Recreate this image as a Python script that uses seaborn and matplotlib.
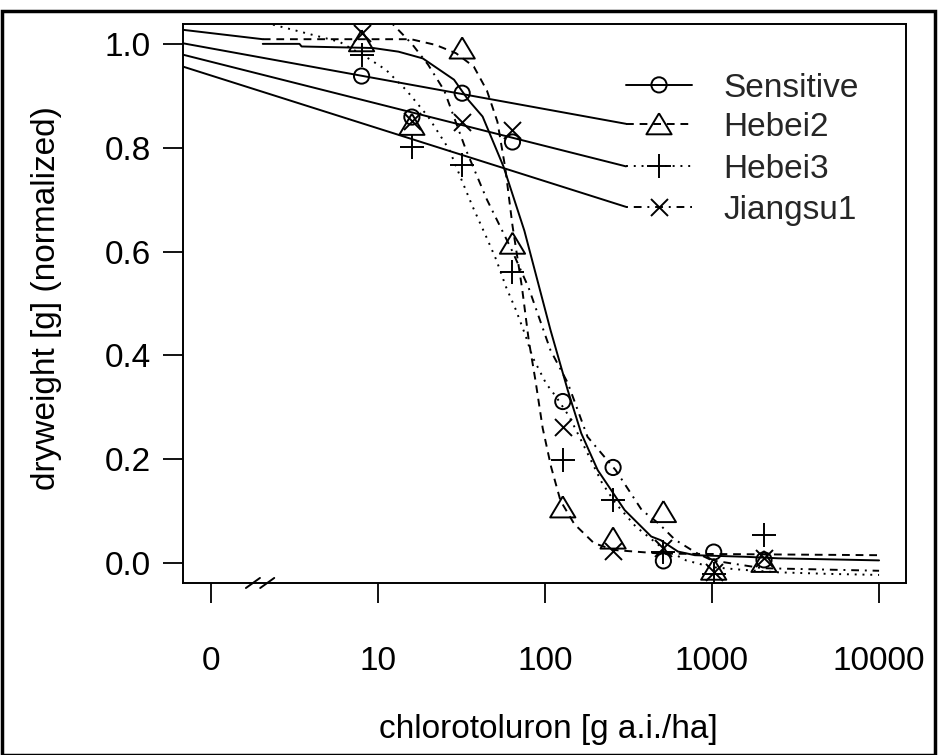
import numpy as np
import pandas as pd
import matplotlib
matplotlib.use("Agg")
import matplotlib.pyplot as plt
import seaborn as sns
from matplotlib.patches import Rectangle

# observed (normalized) dry weights per dose
doses = [8, 16, 32, 64, 128, 256, 512, 1024, 2048]
sensitive = [0.938, 0.859, 0.905, 0.811, 0.311, 0.184, 0.004, 0.021, 0.006]
hebei2 = [1.006, 0.845, 0.992, 0.616, 0.108, 0.048, 0.099, -0.012, 0.003]
hebei3 = [0.979, 0.802, 0.767, 0.560, 0.198, 0.121, 0.022, -0.022, 0.054]
jiangsu1 = [1.021, 0.852, 0.850, 0.834, 0.261, 0.024, 0.029, -0.017, 0.010]

# fitted curves
solid_dose = [2.05, 3.4, 3.5, 9.4, 13.3, 18.6, 28.6, 34.8, 42.4, 56.5, 75.4, 108, 137,
              165, 207, 300, 433, 493, 626, 790, 1570, 2500, 10000]
solid_y = [1.0, 1.0, 0.995, 0.992, 0.985, 0.972, 0.931, 0.892, 0.86, 0.764, 0.64, 0.449,
           0.333, 0.25, 0.179, 0.102, 0.051, 0.044, 0.022, 0.015, 0.012, 0.009, 0.005]
dashed_dose = [2.05, 15.8, 22.2, 29.4, 37.6, 45, 52, 58, 64, 73, 80, 88, 97, 109, 124,
               150, 197, 260, 500, 10000]
dashed_y = [1.009, 1.009, 0.998, 0.982, 0.956, 0.91, 0.85, 0.76, 0.65, 0.53, 0.43, 0.35,
            0.26, 0.185, 0.12, 0.075, 0.038, 0.025, 0.018, 0.015]
dotted_dose = [2.36, 5.9, 8.5, 11.2, 14.8, 20, 26.8, 32.3, 36.9, 44.5, 51.2, 58.5, 67.2,
               77, 84.3, 101.6, 116.8, 140, 168, 220, 265, 350, 500, 700, 1000, 1500,
               2500, 5000, 10000]
dotted_y = [1.037, 1.004, 0.975, 0.95, 0.911, 0.86, 0.796, 0.732, 0.687, 0.629, 0.584,
            0.532, 0.487, 0.436, 0.397, 0.346, 0.32, 0.282, 0.231, 0.154, 0.115, 0.07,
            0.03, 0.005, -0.008, -0.013, -0.018, -0.021, -0.023]
dashdot_dose = [12.3, 16, 20, 25, 33.7, 45, 64, 80, 108, 137, 180, 265, 380, 480, 600,
                800, 1000, 2000, 10000]
dashdot_y = [1.038, 1.0, 0.96, 0.91, 0.796, 0.70, 0.60, 0.53, 0.41, 0.347, 0.243, 0.179,
             0.102, 0.076, 0.045, 0.02, 0.005, -0.01, -0.015]

# straight connector lines (start at left edge of the plot)
conn_start_y = [1.027, 1.001, 0.979, 0.956]
conn_end_dose = [2.05, 306, 306, 306]
conn_end_y = [1.009, 0.846, 0.764, 0.686]

# legend
legend_labels = ["Sensitive", "Hebei2", "Hebei3", "Jiangsu1"]
legend_y = [0.921, 0.846, 0.764, 0.686]

x_ticks = [1, 10, 100, 1000, 10000]
x_ticklabels = ["0", "10", "100", "1000", "10000"]
y_ticks = [0.0, 0.2, 0.4, 0.6, 0.8, 1.0]
break_doses = [1.79, 2.18]

sns.set_theme(style="white")
plt.rcParams['font.family'] = ['Liberation Sans', 'DejaVu Sans']
plt.rcParams['lines.scale_dashes'] = True

fig = plt.figure(figsize=(9.43, 7.55), dpi=100)
ax = fig.add_axes([0.1944, 0.2282, 0.7664, 0.7405])
ax.set_xscale('log')
xmin, xmax = 0.686, 14500
ax.set_xlim(xmin, xmax)
ax.set_ylim(-0.038, 1.039)

lw = 1.4
tri = [(0, 1), (-1.2, -1), (1.2, -1), (0, 1)]
styles = {
    "Sensitive": dict(ls='-', marker='o', filled=True, s=120),
    "Hebei2": dict(ls=(0, (4, 3)), marker=tri, filled=True, s=330),
    "Hebei3": dict(ls=(0, (1, 3)), marker='+', filled=False, s=290),
    "Jiangsu1": dict(ls=(0, (1, 3, 4, 3)), marker='x', filled=False, s=150),
}
curves = {
    "Sensitive": (solid_dose, solid_y),
    "Hebei2": (dashed_dose, dashed_y),
    "Hebei3": (dotted_dose, dotted_y),
    "Jiangsu1": (dashdot_dose, dashdot_y),
}
points = {"Sensitive": sensitive, "Hebei2": hebei2, "Hebei3": hebei3, "Jiangsu1": jiangsu1}

for name in legend_labels:
    st = styles[name]
    cd, cy = curves[name]
    sns.lineplot(x=cd, y=cy, ax=ax, color='black', lw=lw, linestyle=st['ls'],
                 estimator=None, sort=False)
    if st['filled']:
        sns.scatterplot(x=doses, y=points[name], ax=ax, marker=st['marker'], s=st['s'],
                        color='black', facecolors='none', edgecolor='black', linewidth=lw)
    else:
        sns.scatterplot(x=doses, y=points[name], ax=ax, marker=st['marker'], s=st['s'],
                        color='black', linewidth=lw)

# connector lines
for y0, xe, ye in zip(conn_start_y, conn_end_dose, conn_end_y):
    ax.plot([xmin, xe], [y0, ye], color='black', lw=lw)

# legend drawn by hand
leg_x0, leg_xm, leg_x1, leg_xt = 306, 482, 757, 1164
for name, ly in zip(legend_labels, legend_y):
    st = styles[name]
    ax.plot([leg_x0, leg_x1], [ly, ly], color='black', lw=lw, linestyle=st['ls'])
    if st['filled']:
        ax.scatter([leg_xm], [ly], marker=st['marker'], s=st['s'], facecolors='none',
                   edgecolors='black', linewidths=lw, zorder=5)
    else:
        ax.scatter([leg_xm], [ly], marker=st['marker'], s=st['s'], color='black',
                   linewidths=lw, zorder=5)
    ax.text(leg_xt, ly, name, fontsize=24, va='center_baseline', ha='left')

ax.set_xticks(x_ticks)
ax.set_xticklabels(x_ticklabels)
ax.minorticks_off()
ax.set_yticks(y_ticks)
ax.set_yticklabels([f"{v:.1f}" for v in y_ticks])
ax.tick_params(axis='both', which='major', direction='out', length=14.5, width=1.3,
               labelsize=24, color='black', labelcolor='black')
ax.tick_params(axis='x', pad=31)
ax.tick_params(axis='y', pad=9)
ax.tick_params(bottom=True, left=True)
for sp in ax.spines.values():
    sp.set_color('black')
    sp.set_linewidth(1.4)

# axis break marks
for bd in break_doses:
    lb = np.log10(bd)
    ax.plot([10 ** (lb - 0.042), 10 ** (lb + 0.042)], [-0.0095, 0.0085], color='black',
            lw=lw, transform=ax.get_xaxis_transform(), clip_on=False)

ax.set_xlabel("chlorotoluron [g a.i./ha]", fontsize=24, color='black')
ax.set_ylabel("dryweight [g] (normalized)", fontsize=24, color='black')
ax.xaxis.set_label_coords(0.505, -0.235)
ax.yaxis.set_label_coords(-0.168, 0.509)
ax.xaxis.label.set_va('top')

# outer frame
fig.patches.append(Rectangle((0.002, 0.0), 0.99, 0.986, transform=fig.transFigure,
                             fill=False, edgecolor='black', lw=2.5))

fig.savefig("out.png", dpi=100, facecolor='white')
